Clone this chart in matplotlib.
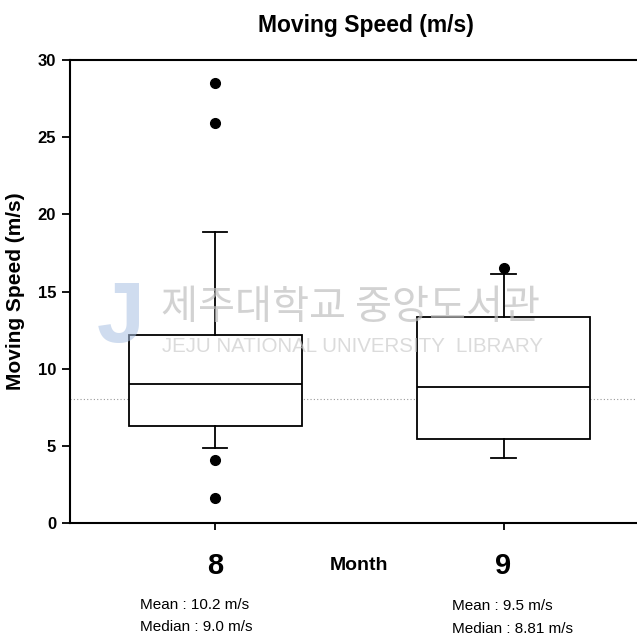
import matplotlib.pyplot as plt
import numpy as np

# box statistics (m/s)
months = ["8", "9"]
q1 = [6.27, 5.44]
medians = [9.0, 8.81]
q3 = [12.2, 13.37]
whisker_low = [4.88, 4.23]
whisker_high = [18.86, 16.14]
outliers = [[28.54, 25.94, 4.08, 1.64], [16.5]]
mean_text = ["Mean : 10.2 m/s", "Mean : 9.5 m/s"]
median_text = ["Median : 9.0 m/s", "Median : 8.81 m/s"]
ref_line = 8.04

plt.rcParams['font.family'] = ['Liberation Sans', 'DejaVu Sans']

W, H = 637, 635
fig = plt.figure(figsize=(W / 100, H / 100), dpi=100)
ax = fig.add_axes([70 / W, 1 - 523 / H, 572 / W, 463 / H])

stats = []
for i in range(len(months)):
    stats.append(dict(q1=q1[i], med=medians[i], q3=q3[i],
                      whislo=whisker_low[i], whishi=whisker_high[i],
                      fliers=outliers[i], label=months[i]))

positions = np.arange(1, len(months) + 1)
ax.bxp(stats, positions=positions, widths=0.6, patch_artist=True,
       boxprops=dict(facecolor='white', edgecolor='black', linewidth=1.3),
       medianprops=dict(color='black', linewidth=1.3),
       whiskerprops=dict(color='black', linewidth=1.3),
       capprops=dict(color='black', linewidth=1.3),
       capwidths=0.085,
       flierprops=dict(marker='o', markerfacecolor='black',
                       markeredgecolor='black', markersize=7),
       zorder=3)

ax.axhline(ref_line, color='#999999', linestyle=(0, (1, 2)), linewidth=0.8,
           zorder=1)

ax.set_ylim(0, 30)
ax.set_xlim(0.497, 2.48)
ax.set_yticks(np.arange(0, 31, 5))
ax.set_xticks(positions)
ax.set_xticklabels(months, fontsize=21, fontweight='bold')
ax.tick_params(axis='x', length=5, width=1.3, pad=16)
ax.tick_params(axis='y', length=6, width=1.3, labelsize=12, pad=4)
for lab in ax.get_yticklabels():
    lab.set_fontweight('bold')

for s in ['left', 'bottom', 'top']:
    ax.spines[s].set_linewidth(1.5)
ax.spines['right'].set_visible(False)

ax.set_ylabel("Moving Speed (m/s)", fontsize=15, fontweight='bold', labelpad=9)
ax.set_title("Moving Speed (m/s)", fontsize=16.5, fontweight='bold', pad=20, x=0.517)

# x axis label sits between the two tick labels
ax.text(1.5, -0.092, "Month", transform=ax.get_xaxis_transform(),
        ha='center', va='center', fontsize=14, fontweight='bold')

# mean / median notes under each month
note_x = [140 / W, 452 / W]
note_y = [[1 - 605 / H, 1 - 627 / H], [1 - 606 / H, 1 - 629 / H]]
for i in range(len(months)):
    fig.text(note_x[i], note_y[i][0], mean_text[i], fontsize=11, va='center')
    fig.text(note_x[i], note_y[i][1], median_text[i], fontsize=11, va='center')

# library watermark overlay
fig.text(97 / W, 1 - 320 / H, "J", fontsize=62, fontweight='bold',
         color='#a9c0e2', alpha=0.55, va='center', ha='left')
fig.text(350 / W, 1 - 308 / H, "제주대학교 중앙도서관", fontsize=29,
         family=['Noto Sans CJK KR', 'DejaVu Sans'], color='#c0c0c0',
         alpha=0.7, ha='center', va='center')
fig.text(353 / W, 1 - 346 / H, "JEJU NATIONAL UNIVERSITY  LIBRARY",
         fontsize=14.8, color='#cccccc', alpha=0.7, ha='center', va='center')

fig.savefig("out.png", dpi=100)
